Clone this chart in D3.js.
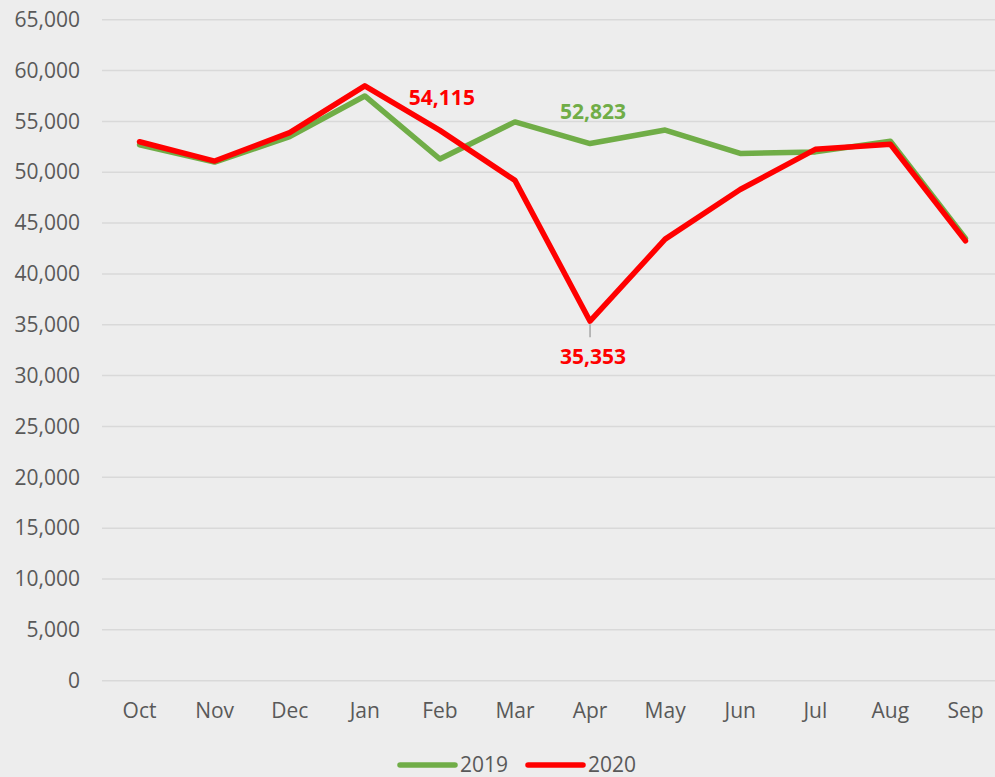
<!DOCTYPE html>
<html><head><meta charset="utf-8">
<script src="https://cdn.jsdelivr.net/npm/d3@7"></script>
<style>
html,body{margin:0;padding:0;background:#EDEDED;overflow:hidden;}
svg{display:block;font-family:"Open Sans",sans-serif;}
</style></head>
<body>
<script>
const months = ["Oct","Nov","Dec","Jan","Feb","Mar","Apr","May","Jun","Jul","Aug","Sep"];
const values2019 = [52700, 51000, 53500, 57500, 51300, 54950, 52823, 54150, 51850, 52000, 53050, 43500];
const values2020 = [53000, 51100, 53900, 58500, 54115, 49200, 35353, 43420, 48300, 52250, 52750, 43250];
const yTicks = [0,5000,10000,15000,20000,25000,30000,35000,40000,45000,50000,55000,60000,65000];
const seriesNames = ["2019","2020"];
const colors = ["#70AD47","#FF0000"];

const W = 995, H = 777;
const svg = d3.select("body").append("svg").attr("width", W).attr("height", H);
svg.append("rect").attr("width", W).attr("height", H).attr("fill", "#EDEDED");

const x = d3.scaleBand().domain(months).range([102, 1003]);
const y = d3.scaleLinear().domain([0, 65000]).range([680.7, 19.7]);
const cx = m => x(m) + x.bandwidth() / 2;

// gridlines
svg.append("g").selectAll("line").data(yTicks).join("line")
  .attr("x1", 102).attr("x2", W)
  .attr("y1", d => y(d)).attr("y2", d => y(d))
  .attr("stroke", "#D9D9D9").attr("stroke-width", 1.5);

// y axis labels
const yAxis = d3.axisLeft(y).tickValues(yTicks).tickFormat(d3.format(",")).tickSize(0).tickPadding(0);
const gy = svg.append("g").attr("transform", "translate(80,0)").call(yAxis);
gy.select(".domain").remove();
gy.selectAll("text").attr("fill", "#595959").style("font-size", "21px").style("font-family", "'Open Sans',sans-serif");

// x axis labels
const xAxis = d3.axisBottom(x).tickSize(0).tickPadding(0);
const gx = svg.append("g").attr("transform", "translate(0,703)").call(xAxis);
gx.select(".domain").remove();
gx.selectAll("text").attr("fill", "#595959").style("font-size", "21px").style("font-family", "'Open Sans',sans-serif").attr("dy", "0.71em");

const line = d3.line().x((d, i) => cx(months[i])).y(d => y(d));
[values2019, values2020].forEach((vals, k) => {
  svg.append("path").datum(vals).attr("d", line)
    .attr("fill", "none").attr("stroke", colors[k]).attr("stroke-width", 5.5)
    .attr("stroke-linejoin", "round").attr("stroke-linecap", "round");
});

// leader line for Apr 2020 label
svg.append("line").attr("x1", cx("Apr")).attr("x2", cx("Apr"))
  .attr("y1", y(values2020[6]) + 3).attr("y2", y(values2020[6]) + 16)
  .attr("stroke", "#A6A6A6").attr("stroke-width", 1.5);

const fmt = d3.format(",");
function label(v, m, color, dx, dy) {
  svg.append("text").attr("x", cx(m) + dx).attr("y", y(v) + dy)
    .attr("text-anchor", "middle").attr("fill", color)
    .style("font-size", "21px").style("font-weight", "bold").text(fmt(v));
}
label(values2020[4], "Feb", colors[1], 2, -25);
label(values2019[6], "Apr", colors[0], 3, -25);
label(values2020[6], "Apr", colors[1], 3, 43);

// legend
const lg = svg.append("g");
const legendX = [400, 528];
seriesNames.forEach((n, k) => {
  lg.append("line").attr("x1", legendX[k]).attr("x2", legendX[k] + 55)
    .attr("y1", 765).attr("y2", 765).attr("stroke", colors[k]).attr("stroke-width", 5.5).attr("stroke-linecap", "round");
  lg.append("text").attr("x", legendX[k] + 60).attr("y", 772).attr("fill", "#595959")
    .style("font-size", "21px").text(n);
});
</script>
</body></html>
